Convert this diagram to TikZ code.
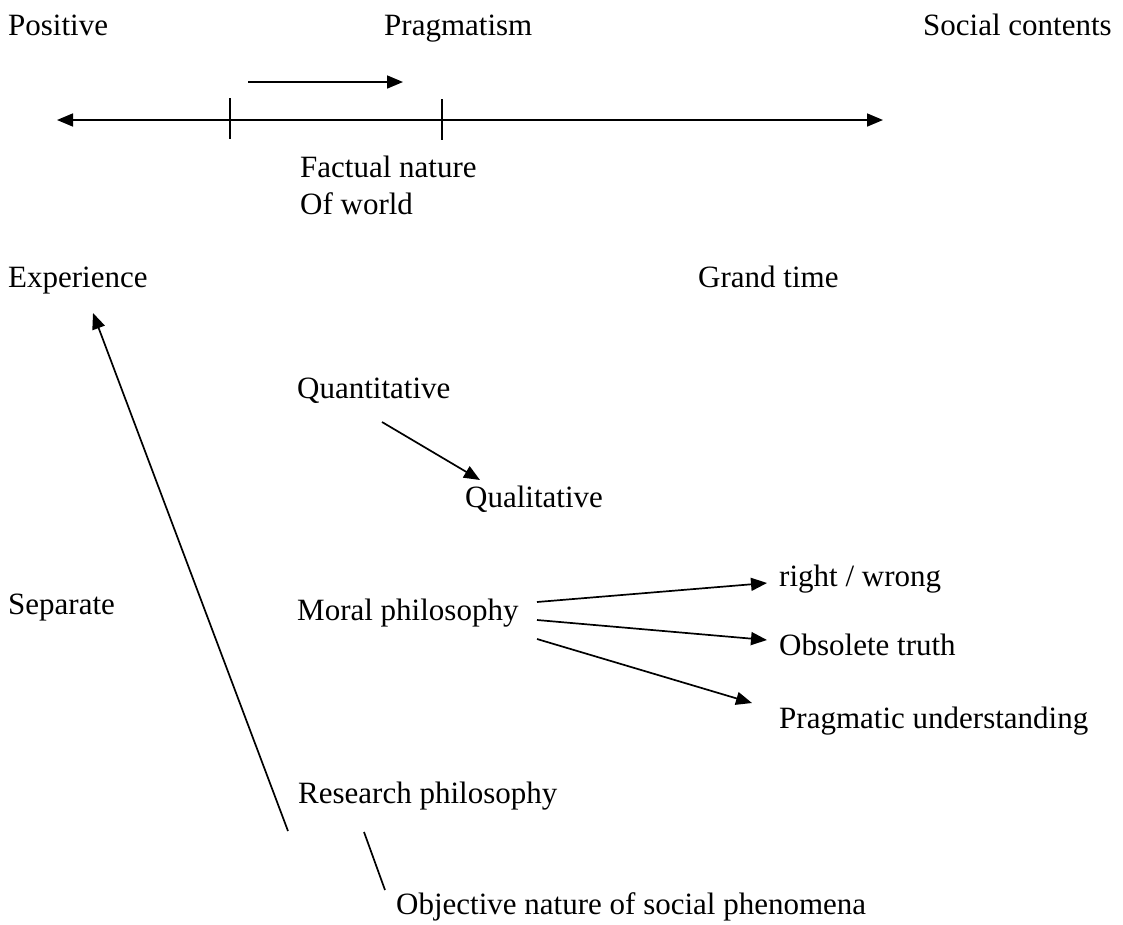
\documentclass[tikz,border=0pt]{standalone}
\usepackage{fontspec}
\setmainfont{Liberation Serif}
\usetikzlibrary{arrows.meta}

\tikzset{
  lbl/.style={anchor=base west, inner sep=0pt, font=\fontsize{31pt}{37pt}\selectfont},
  link/.style={line width=1.7pt},
  arr/.style={link, -{Triangle[length=16pt,width=13pt]}},
  darr/.style={link, {Triangle[length=16pt,width=13pt]}-{Triangle[length=16pt,width=13pt]}}
}

\begin{document}
\begin{tikzpicture}[x=1pt, y=-1pt]
  \useasboundingbox (0,0) rectangle (1123,924);

  % header row
  \node[lbl] (positive) at (8,35) {Positive};
  \node[lbl] (pragmatism) at (384,35) {Pragmatism};
  \node[lbl] (social) at (923,35) {Social contents};

  % axis with its two ticks and the shift arrow above it
  \coordinate (axL) at (57,120);
  \coordinate (axR) at (883,120);
  \draw[darr] (axL) -- (axR);
  \coordinate (t1a) at (230,98);  \coordinate (t1b) at (230,139);
  \coordinate (t2a) at (442,99);  \coordinate (t2b) at (442,140);
  \draw[link] (t1a) -- (t1b);
  \draw[link] (t2a) -- (t2b);
  \coordinate (shA) at (248,82);
  \coordinate (shB) at (403,82);
  \draw[arr] (shA) -- (shB);

  \node[lbl] (factual) at (300,177) {Factual nature};
  \node[lbl] (world) at (300,214) {Of world};

  \node[lbl] (experience) at (8,287) {Experience};
  \node[lbl] (grand) at (698,287) {Grand time};

  % methods
  \node[lbl] (quant) at (297,398) {Quantitative};
  \node[lbl] (qual) at (465,507) {Qualitative};
  \coordinate (qA) at (382,422);
  \coordinate (qB) at (480,480);
  \draw[arr] (qA) -- (qB);

  \node[lbl] (separate) at (8,614) {Separate};
  \node[lbl] (moral) at (297,620) {Moral philosophy};
  \node[lbl] (right) at (779,586) {right / wrong};
  \node[lbl] (obsolete) at (779,655) {Obsolete truth};
  \node[lbl] (pragund) at (779,728) {Pragmatic understanding};

  \coordinate (m1) at (537,602);
  \coordinate (m2) at (537,620);
  \coordinate (m3) at (537,639);
  \coordinate (r1) at (767,583);
  \coordinate (r2) at (767,640);
  \coordinate (r3) at (752,703);
  \draw[arr] (m1) -- (r1);
  \draw[arr] (m2) -- (r2);
  \draw[arr] (m3) -- (r3);

  \node[lbl] (research) at (298,803) {Research philosophy};
  \node[lbl] (objective) at (396,914) {Objective nature of social phenomena};

  % long arrow up to Experience and the link to the bottom line
  \coordinate (lA) at (288,831);
  \coordinate (lB) at (93,313);
  \draw[arr] (lA) -- (lB);
  \coordinate (oA) at (364,832);
  \coordinate (oB) at (385,890);
  \draw[link] (oA) -- (oB);
\end{tikzpicture}
\end{document}
